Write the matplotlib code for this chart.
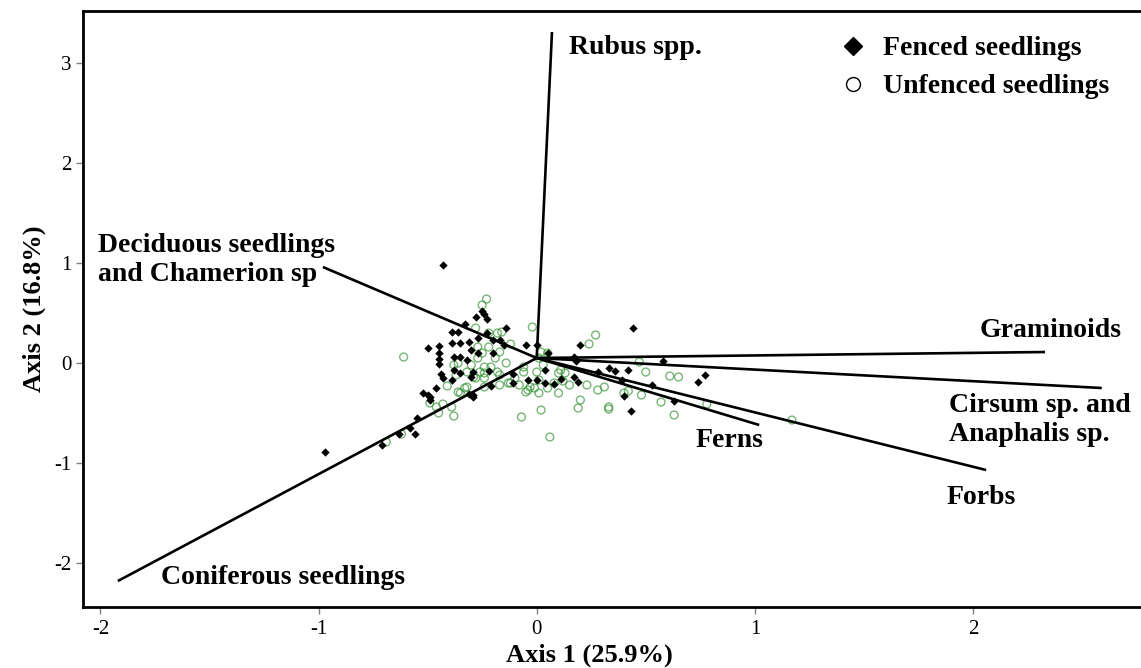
import matplotlib
matplotlib.use("Agg")
import matplotlib.pyplot as plt
from matplotlib.lines import Line2D

plt.rcParams['font.family'] = ['Liberation Serif', 'DejaVu Serif']
plt.rcParams['axes.unicode_minus'] = False

# fenced seedlings (black diamonds), axis 1 / axis 2 scores
fenced_x = [-0.43, -0.25, -0.24, -0.28, -0.23, -0.33, -0.39, -0.36, -0.23, -0.14,
            -0.39, -0.35, -0.31, -0.27, -0.50, -0.45, -0.45, -0.45, -0.45, -0.30,
            -0.35, -0.32, -0.20, -0.17, -0.05, 0.00, -0.15, -0.44, -0.43, -0.46,
            -0.39, -0.50, -0.49, -0.29, -0.21, -0.22, -0.11, -0.11, -0.04, -0.52,
            -0.49, -0.55, -0.58, -0.56, -0.63, -0.71, -0.97, -0.31, -0.38, -0.27,
            -0.20, -0.38, -0.35, -0.30, -0.29, -0.29, 0.44, 0.20, 0.05, 0.17,
            0.18, 0.58, 0.33, 0.36, 0.42, 0.28, 0.04, 0.11, 0.04, 0.08,
            0.17, 0.19, 0.39, 0.53, 0.40, 0.43, 0.63, 0.74, 0.77, 0.00]
fenced_y = [0.98, 0.52, 0.49, 0.46, 0.44, 0.39, 0.31, 0.31, 0.30, 0.35,
            0.20, 0.20, 0.21, 0.25, 0.15, 0.17, 0.10, 0.04, -0.01, 0.13,
            0.06, 0.03, 0.23, 0.23, 0.18, 0.18, 0.18, -0.11, -0.15, -0.25,
            -0.17, -0.32, -0.37, -0.32, -0.23, -0.08, -0.20, -0.11, -0.17, -0.30,
            -0.34, -0.55, -0.65, -0.71, -0.71, -0.82, -0.89, -0.31, -0.07, 0.10,
            0.10, 0.06, -0.10, -0.14, -0.09, -0.34, 0.35, 0.18, 0.10, 0.06,
            0.02, 0.02, -0.05, -0.08, -0.07, -0.09, -0.07, -0.16, -0.20, -0.21,
            -0.14, -0.19, -0.17, -0.22, -0.33, -0.48, -0.38, -0.19, -0.12, -0.17]

# unfenced seedlings (green open circles)
unfenced_x = [-0.23, -0.25, -0.61, -0.18, -0.27, -0.25, -0.38, -0.41, -0.38, -0.45,
              -0.46, -0.43, -0.35, -0.32, -0.24, -0.17, -0.69, -0.29, -0.24, -0.21,
              -0.62, -0.02, -0.16, -0.12, -0.28, -0.22, -0.17, -0.27, -0.19, 0.02,
              -0.14, -0.36, -0.30, -0.06, 0.01, -0.36, -0.33, -0.28, -0.26, -0.17,
              -0.13, -0.07, -0.05, -0.03, 0.01, 0.02, -0.10, -0.06, -0.49, -0.37,
              -0.32, -0.24, 0.27, 0.24, -0.22, 0.05, 0.11, 0.13, 0.23, 0.28,
              0.31, 0.01, -0.04, 0.08, 0.15, 0.10, 0.20, 0.19, 0.33, 0.33,
              0.40, 0.47, 0.50, 0.57, 0.63, 0.61, 0.65, 0.78, 0.06, -0.39,
              -0.24, -0.18, -0.12, -0.08, -0.01, 0.00, 0.48, 0.42, 0.12, 0.05,
              0.10, 0.03, 1.17]
unfenced_y = [0.64, 0.58, 0.06, 0.30, 0.16, 0.10, -0.02, -0.23, -0.53, -0.50,
              -0.44, -0.41, -0.30, -0.24, -0.24, -0.22, -0.79, -0.14, -0.10, -0.04,
              -0.71, 0.36, 0.31, 0.19, 0.35, 0.16, 0.11, 0.05, 0.05, 0.11,
              0.00, 0.00, -0.02, -0.04, 0.05, -0.29, -0.25, -0.15, -0.09, -0.12,
              -0.20, -0.54, -0.29, -0.24, -0.30, -0.47, -0.15, -0.09, -0.40, -0.12,
              -0.09, -0.15, 0.28, 0.19, 0.30, 0.10, -0.07, -0.10, -0.22, -0.27,
              -0.24, -0.17, -0.27, -0.20, -0.22, -0.30, -0.37, -0.45, -0.44, -0.46,
              -0.30, 0.01, -0.09, -0.39, -0.52, -0.13, -0.14, -0.41, -0.74, -0.44,
              -0.04, -0.09, -0.20, -0.22, -0.25, -0.09, -0.32, -0.28, -0.18, -0.25,
              -0.10, -0.02, -0.57]

# environmental vectors
vec_origin = (0.0, 0.05)
vec_names = ['Rubus spp.', 'Deciduous seedlings\nand Chamerion sp', 'Coniferous seedlings',
             'Graminoids', 'Cirsum sp. and\nAnaphalis sp.', 'Forbs', 'Ferns']
vec_x = [0.07, -0.98, -1.92, 2.33, 2.59, 2.06, 1.02]
vec_y = [3.31, 0.96, -2.18, 0.11, -0.25, -1.07, -0.62]

# label anchors (x, y, horizontal alignment)
lab_x = [0.15, -2.01, -1.72, 2.68, 1.89, 1.88, 0.73]
lab_y = [3.16, 1.03, -2.14, 0.33, -0.57, -1.34, -0.77]
lab_ha = ['left', 'left', 'left', 'right', 'left', 'left', 'left']

fig = plt.figure(figsize=(11.41, 6.68), dpi=100)
ax = fig.add_axes([0.0727, 0.0913, 0.9273, 0.8922])

ax.scatter(unfenced_x, unfenced_y, s=32, facecolors='none', edgecolors='#2f8f2f',
           linewidths=1.0, alpha=0.65, zorder=2)
ax.scatter(fenced_x, fenced_y, s=18, marker='D', color='black', linewidths=0, zorder=3)

for i in range(len(vec_names)):
    ax.plot([vec_origin[0], vec_x[i]], [vec_origin[1], vec_y[i]], color='black',
            lw=1.9, solid_capstyle='butt', zorder=4)
    ax.text(lab_x[i], lab_y[i], vec_names[i], ha=lab_ha[i], va='center',
            fontsize=20, fontweight='bold', linespacing=1.2)

ax.set_xlim(-2.08, 2.77)
ax.set_ylim(-2.44, 3.52)
ax.set_xticks([-2, -1, 0, 1, 2])
ax.set_yticks([-2, -1, 0, 1, 2, 3])
ax.tick_params(direction='out', length=5, width=1, color='grey', labelsize=15)
ax.tick_params(axis='x', pad=4)
ax.tick_params(axis='y', pad=3)
for s in ['left', 'bottom', 'top']:
    ax.spines[s].set_linewidth(2)
ax.spines['right'].set_visible(False)

ax.set_xlabel('Axis 1 (25.9%)', fontsize=19, fontweight='bold')
ax.xaxis.set_label_coords(0.479, -0.061)
ax.set_ylabel('Axis 2 (16.8%)', fontsize=19, fontweight='bold', labelpad=6)

handles = [Line2D([], [], marker='D', color='black', ls='none', markersize=9),
           Line2D([], [], marker='o', markerfacecolor='none', markeredgecolor='black',
                  ls='none', markersize=10)]
ax.legend(handles, ['Fenced seedlings', 'Unfenced seedlings'], loc='upper left',
          bbox_to_anchor=(0.688, 1.0), frameon=False, handlelength=1.2,
          prop={'size': 20, 'weight': 'bold'}, handletextpad=0.5, labelspacing=0.45)

fig.savefig('out.png', dpi=100)
